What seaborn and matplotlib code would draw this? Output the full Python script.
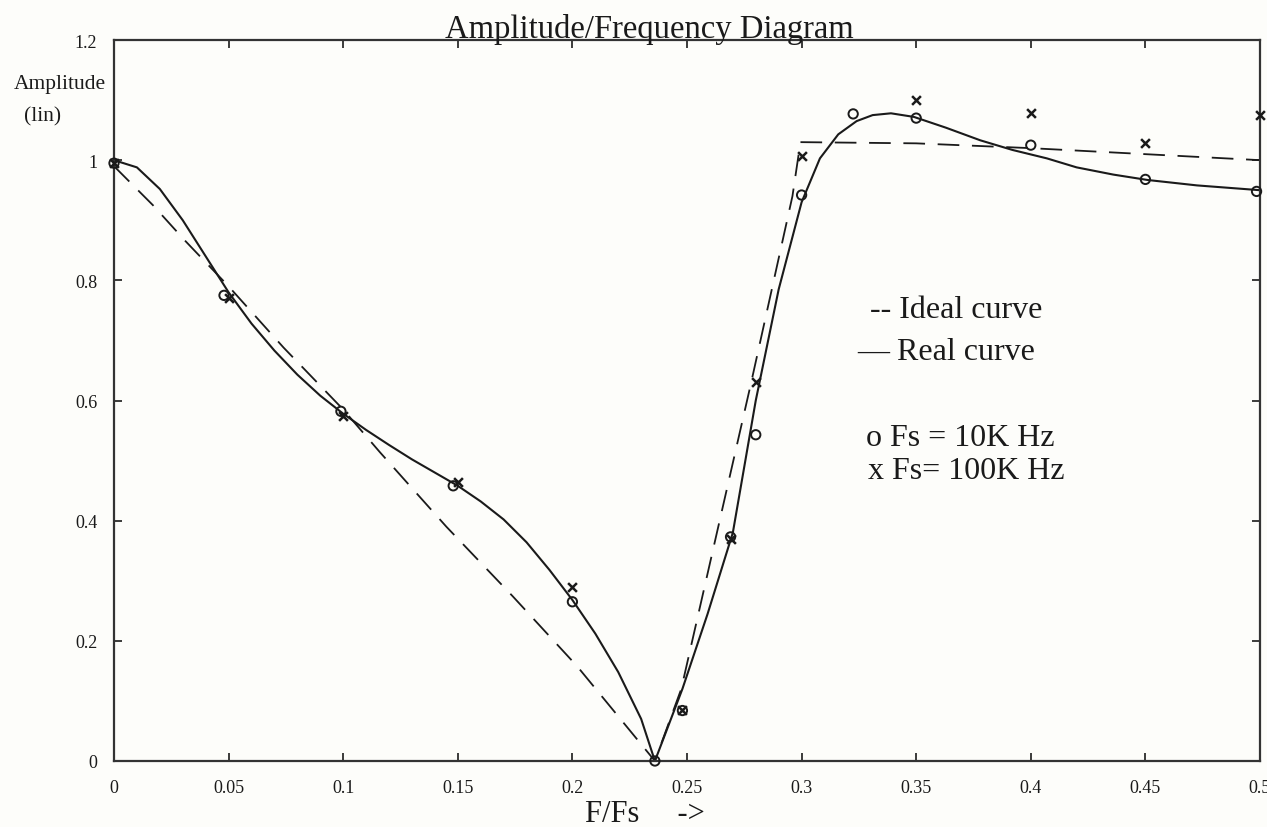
import matplotlib
matplotlib.use('Agg')
import matplotlib.pyplot as plt
import seaborn as sns

# values
ideal_f = [0.0, 0.017, 0.031, 0.05, 0.074, 0.1, 0.116, 0.145, 0.174, 0.202, 0.236,
           0.2475, 0.278, 0.296, 0.2995, 0.35, 0.4, 0.45, 0.5]
ideal_amp = [0.99, 0.925, 0.866, 0.79, 0.688, 0.585, 0.514, 0.39, 0.274, 0.158, 0.0,
             0.12, 0.63, 0.94, 1.03, 1.028, 1.02, 1.01, 1.0]

real_f = [0.0, 0.01, 0.02, 0.03, 0.04, 0.05, 0.06, 0.07, 0.08, 0.09, 0.1, 0.11, 0.12,
          0.13, 0.14, 0.15, 0.16, 0.17, 0.18, 0.19, 0.2, 0.21, 0.22, 0.23, 0.236,
          0.248, 0.259, 0.27, 0.28, 0.29, 0.3, 0.308, 0.316, 0.324, 0.331, 0.339, 0.349,
          0.363, 0.378, 0.392, 0.407, 0.42, 0.436, 0.451, 0.4725, 0.5]
real_amp = [1.0, 0.988, 0.952, 0.9, 0.84, 0.78, 0.728, 0.683, 0.643, 0.608, 0.578, 0.551,
            0.526, 0.502, 0.48, 0.458, 0.432, 0.402, 0.364, 0.318, 0.268, 0.212, 0.148,
            0.07, 0.0, 0.12, 0.245, 0.38, 0.6, 0.785, 0.93, 1.003, 1.043, 1.065, 1.075,
            1.078, 1.072, 1.054, 1.033, 1.017, 1.003, 0.988, 0.976, 0.967, 0.958, 0.95]

fs10k_f = [0.0, 0.048, 0.099, 0.148, 0.2, 0.236, 0.248, 0.269, 0.28, 0.3, 0.3225, 0.35, 0.4, 0.45, 0.4985]
fs10k_amp = [0.995, 0.775, 0.582, 0.458, 0.265, 0.0, 0.084, 0.373, 0.543, 0.942, 1.077, 1.07,
             1.025, 0.968, 0.948]

fs100k_f = [0.0, 0.05, 0.1, 0.15, 0.2, 0.248, 0.269, 0.28, 0.3, 0.35, 0.4, 0.45, 0.5]
fs100k_amp = [0.995, 0.77, 0.575, 0.465, 0.29, 0.085, 0.37, 0.63, 1.007, 1.10, 1.078, 1.028, 1.075]

x_ticks = [0, 0.05, 0.1, 0.15, 0.2, 0.25, 0.3, 0.35, 0.4, 0.45, 0.5]
x_labels = ['0', '0.05', '0.1', '0.15', '0.2', '0.25', '0.3', '0.35', '0.4', '0.45', '0.5']
y_ticks = [0, 0.2, 0.4, 0.6, 0.8, 1.0, 1.2]
y_labels = ['0', '0.2', '0.4', '0.6', '0.8', '1', '1.2']

legend_lines = ['-- Ideal curve', '\u2014 Real curve', 'o Fs = 10K Hz', 'x Fs= 100K Hz']

sns.set_theme(style='ticks')
plt.rcParams['font.family'] = ['Liberation Serif', 'DejaVu Serif']
bg = '#fdfdfa'
ink = '#1a1a1a'

W, H = 1267, 828
fig = plt.figure(figsize=(W / 100, H / 100), dpi=100, facecolor=bg)
ax = fig.add_axes([114 / W, 1 - 762 / H, 1146 / W, 721 / H], facecolor=bg)

line = sns.lineplot(x=ideal_f, y=ideal_amp, ax=ax, color=ink, sort=False, estimator=None,
                    linewidth=1.3).lines[-1]
line.set_dashes((12, 7))
sns.lineplot(x=real_f, y=real_amp, ax=ax, color=ink, sort=False, estimator=None, linewidth=1.5)

sns.scatterplot(x=fs10k_f, y=fs10k_amp, ax=ax, marker='o', s=45, facecolor='none',
                edgecolor=ink, linewidth=1.4, zorder=4, clip_on=False)
sns.scatterplot(x=fs100k_f, y=fs100k_amp, ax=ax, marker='x', s=40, color=ink,
                linewidth=1.8, zorder=4, clip_on=False)

ax.set_xlim(0, 0.5)
ax.set_ylim(0, 1.2)
ax.set_xticks(x_ticks)
ax.set_xticklabels(x_labels)
ax.set_yticks(y_ticks)
ax.set_yticklabels(y_labels)
ax.tick_params(direction='in', length=6, width=1.2, colors=ink, labelsize=13,
               top=True, right=True)
ax.tick_params(axis='x', pad=13)
ax.tick_params(axis='y', pad=12)
for sp in ax.spines.values():
    sp.set_visible(True)
    sp.set_linewidth(1.6)
    sp.set_color('#333333')

# title sits on the top frame line, as in the scan
fig.text(649 / W, 1 - 38 / H, 'Amplitude/Frequency Diagram', ha='center', va='baseline',
         fontsize=23.5, color=ink)
fig.text(60 / W, 1 - 85 / H, 'Amplitude', ha='center', va='center', fontsize=15.5, color=ink)
fig.text(43 / W, 1 - 117 / H, '(lin)', ha='center', va='center', fontsize=15.5, color=ink)
fig.text(585 / W, 1 - 815 / H, 'F/Fs     ->', ha='left', va='center', fontsize=22, color=ink)

legend_pos = [(870, 310), (857, 353), (866, 439), (868, 472)]
for txt, (px, py) in zip(legend_lines, legend_pos):
    fig.text(px / W, 1 - py / H, txt, ha='left', va='center', fontsize=23, color=ink)

fig.savefig('out.png', dpi=100, facecolor=bg)
